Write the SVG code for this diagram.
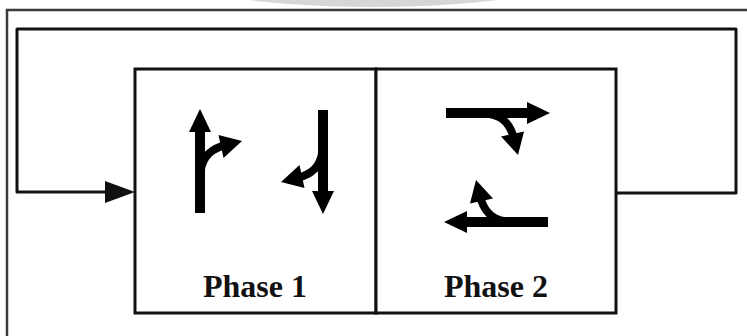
<svg xmlns="http://www.w3.org/2000/svg" width="747" height="336" viewBox="0 0 747 336">
<style>
.frame{fill:none;stroke:#3a3a3a;stroke-width:2.5}
.wire{fill:none;stroke:#111;stroke-width:3;stroke-linejoin:round}
.box{fill:#fff;stroke:#111;stroke-width:3}
.lbl{font-family:"Liberation Serif","Times New Roman",serif;font-weight:bold;font-size:32px;fill:#111;text-anchor:middle}
.shaft{fill:none;stroke:#000;stroke-width:10}
.branch{fill:none;stroke:#000;stroke-width:8}
</style>
<defs>
<g id="mv">
<line class="shaft" x1="0" y1="0" x2="0" y2="-84"/>
<polygon points="0,-104 -11,-81 11,-81" fill="#000"/>
<path class="branch" d="M0,-36 C1,-54 8,-62 22,-67"/>
<polygon points="42,-72 23.5,-55 18.5,-78" fill="#000"/>
</g>
</defs>
<rect width="747" height="336" fill="#fff"/>
<ellipse cx="373" cy="-33" rx="220" ry="40" fill="#d6d6d6"/>
<path class="frame" d="M7,336 V10 H747"/>
<g id="connectors">
<path class="wire" d="M616,193 H736 V29 H17 V192 H106"/>
<polygon points="105,181 135,192 105,203" fill="#111"/>
</g>
<g id="phase1">
<rect class="box" x="135" y="69" width="241" height="244"/>
<use href="#mv" transform="translate(200,213)"/>
<use href="#mv" transform="translate(323,110) rotate(180)"/>
<text class="lbl" x="255" y="297">Phase 1</text>
</g>
<g id="phase2">
<rect class="box" x="376" y="69" width="240" height="244"/>
<use href="#mv" transform="translate(446,113) rotate(90)"/>
<use href="#mv" transform="translate(548,222) rotate(-90)"/>
<text class="lbl" x="496" y="297">Phase 2</text>
</g>
</svg>
